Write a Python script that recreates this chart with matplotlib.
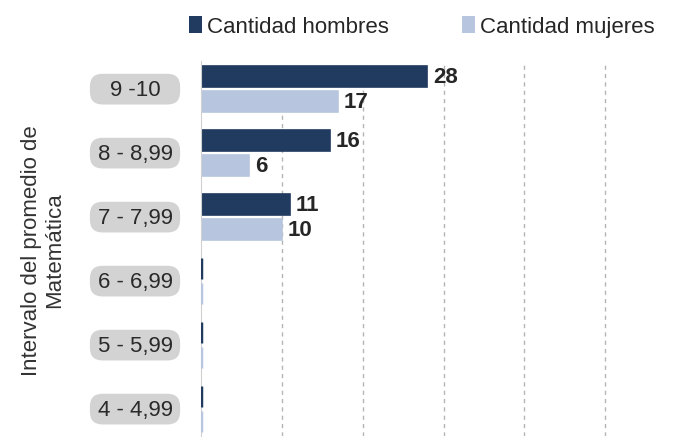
import matplotlib.pyplot as plt
from matplotlib.patches import FancyBboxPatch, Patch
import numpy as np

plt.rcParams["font.family"] = ["Liberation Sans", "DejaVu Sans"]
plt.rcParams["text.color"] = "#262626"

# data
intervals = ["9 -10", "8 - 8,99", "7 - 7,99", "6 - 6,99", "5 - 5,99", "4 - 4,99"]
hombres = [28, 16, 11, 0, 0, 0]
mujeres = [17, 6, 10, 0, 0, 0]
series_names = ["Cantidad hombres", "Cantidad mujeres"]
colors = ["#213a60", "#b7c6de"]

fig = plt.figure(figsize=(6.89, 4.39), dpi=100)
ax = fig.add_axes([0.2917, 0.0046, 0.7040, 0.8542])

y = np.arange(len(intervals))
h = 0.33
off = 0.195
for vals, pos, c in [(hombres, y - off, colors[0]), (mujeres, y + off, colors[1])]:
    vals = np.array(vals)
    ax.barh(pos, vals, height=h, color=c, edgecolor=c, linewidth=1.2)
    # zero-valued bars show up as a thin stub on the axis
    zero = vals == 0
    ax.vlines(vals[zero], pos[zero] - h / 2, pos[zero] + h / 2, color=c,
              linewidth=2.5, zorder=3)
    for v, p in zip(vals, pos):
        if v > 0:
            ax.annotate(str(v), (v, p), xytext=(4, 0), textcoords="offset points",
                        ha="left", va="center", fontsize=16, fontweight="bold")

ax.set_xlim(0, 60)
ax.set_ylim(5.42, -0.44)
ax.set_xticks([10, 20, 30, 40, 50])
ax.xaxis.grid(True, color="#b5b5b5", linestyle=(0, (3, 3)), linewidth=1)
ax.set_axisbelow(True)
ax.tick_params(axis="x", length=0, labelbottom=False)
ax.tick_params(axis="y", length=0, labelleft=False)
for s in ["top", "right", "bottom"]:
    ax.spines[s].set_visible(False)
ax.spines["left"].set_color("#d0d0d0")
ax.spines["left"].set_linewidth(0.8)

# category labels in rounded grey boxes
bb = ax.get_window_extent()
aspect = (bb.width / 1.0) / (bb.height / 5.86)
tr = ax.get_yaxis_transform()
x0, x1 = -0.229, -0.043
bh = 0.48
for yi, lab in zip(y, intervals):
    box = FancyBboxPatch((x0, yi - bh / 2), x1 - x0, bh,
                         boxstyle="round,pad=0,rounding_size=0.026",
                         mutation_aspect=aspect, transform=tr, clip_on=False,
                         facecolor="#d3d3d3", edgecolor="none")
    ax.add_patch(box)
    ax.text((x0 + x1) / 2, yi, lab, transform=tr, ha="center", va="center",
            fontsize=16, color="#2a2a2a")

fig.text(0.062, 0.43, "Intervalo del promedio de\nMatemática", rotation=90,
         ha="center", va="center", fontsize=16, color="#333333", linespacing=1.15)

handles = [Patch(facecolor=c, edgecolor="none") for c in colors]
fig.legend(handles, series_names, loc="center left", bbox_to_anchor=(0.274, 0.937),
           ncol=2, frameon=False, fontsize=16, handlelength=0.6, handleheight=0.75,
           handletextpad=0.2, columnspacing=3.3, borderaxespad=0, borderpad=0)

fig.savefig("out.png", dpi=100)
